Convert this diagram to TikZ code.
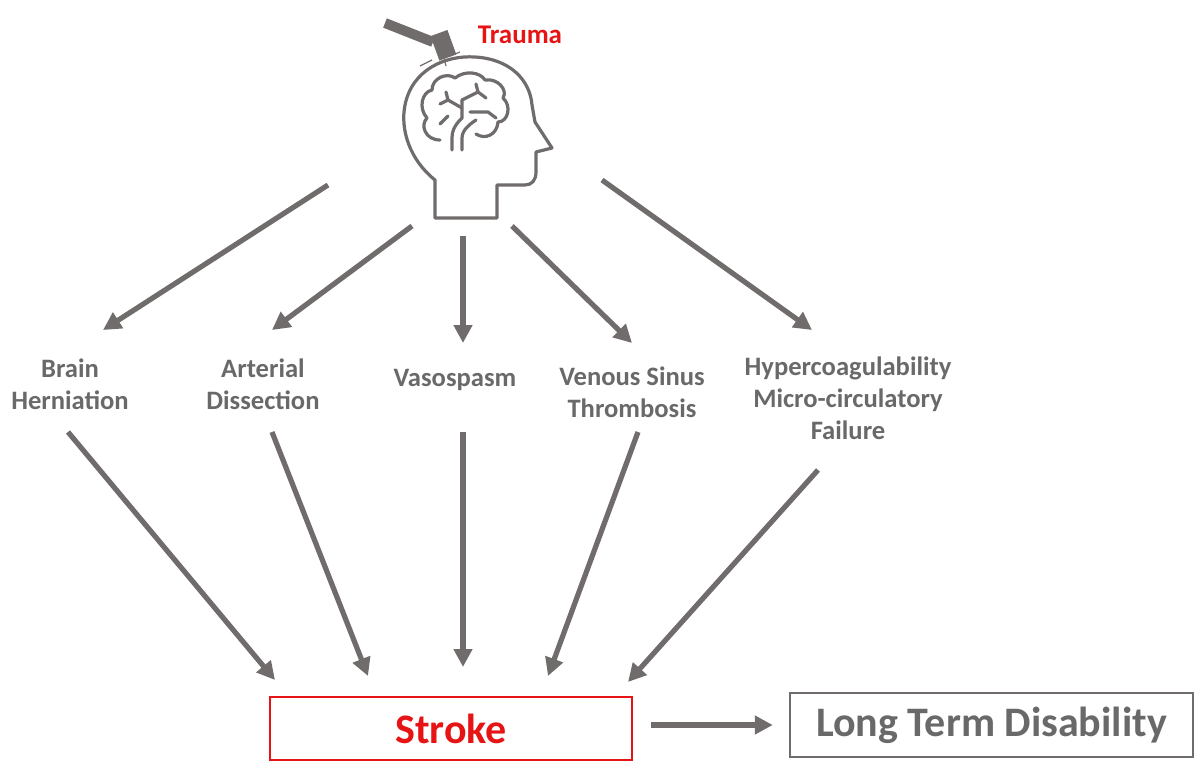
\documentclass[tikz,border=0pt]{standalone}
\usepackage{fontspec}
\setmainfont{Carlito}
\usetikzlibrary{arrows.meta}
\definecolor{ag}{RGB}{112,108,108}
\definecolor{tg}{RGB}{105,105,105}
\definecolor{rd}{RGB}{230,20,20}
\begin{document}
\begin{tikzpicture}[x=0.5pt,y=-0.5pt,
 arr/.style={draw=ag,line width=2.6pt,-{Triangle[length=9pt,width=9pt]}},
 lab/.style={text=tg,font=\fontsize{13.3pt}{16pt}\selectfont\bfseries,align=center},
 ic/.style={draw=ag,line width=1.6pt,line join=round,line cap=round}]
\useasboundingbox (0,0) rectangle (1200,771);
% head
\draw[ic] (435,218) -- (435,180) .. controls (410,160) and (400,130) .. (405,105)
 .. controls (412,70) and (445,55) .. (475,57)
 .. controls (510,59) and (530,80) .. (532,105)
 -- (535,122) -- (552,148) -- (536,152) -- (536,172) .. controls (536,180) and (532,185) .. (525,185)
 -- (497,185) -- (497,218) -- cycle;
% brain
\draw[ic] (440,140) .. controls (425,140) and (420,125) .. (427,118)
 .. controls (418,108) and (422,92) .. (432,90)
 .. controls (432,78) and (447,72) .. (455,78)
 .. controls (465,70) and (480,72) .. (485,80)
 .. controls (498,78) and (508,90) .. (503,98)
 .. controls (512,106) and (508,122) .. (498,122)
 .. controls (497,135) and (485,140) .. (476,134);
\draw[ic] (452,150) -- (452,138) .. controls (452,128) and (458,122) .. (462,118) -- (462,100);
\draw[ic] (462,150) -- (462,138) .. controls (462,130) and (470,124) .. (476,120);
\draw[ic] (462,108) -- (448,100) -- (440,104);
\draw[ic] (448,100) -- (446,92);
\draw[ic] (462,100) -- (478,92) -- (486,98);
\draw[ic] (478,92) -- (476,84);
\draw[ic] (470,112) -- (488,112) -- (496,118);
\draw[ic] (440,124) -- (448,116);
% hammer
\draw[ag,line width=5pt] (385,23) -- (433,42);
\fill[ag,rotate around={20:(444,44)}] (434,32) rectangle (452,58);
\draw[ag,line width=0.6pt] (432,60) -- (420,66) (450,56) -- (460,52) (444,58) -- (446,66);
\node[text=rd,font=\fontsize{13.5pt}{16pt}\selectfont\bfseries] (tr) at (520,35) {Trauma};
% labels
\node[lab] (bh) at (70,384) {Brain\\Herniation};
\node[lab] (ad) at (263,384) {Arterial\\Dissection};
\node[lab] (vs) at (455,380) {Vasospasm};
\node[lab] (vt) at (632,392) {Venous Sinus\\Thrombosis};
\node[lab] (hc) at (848,398) {Hypercoagulability\\Micro-circulatory\\Failure};
\coordinate (h1) at (328,185); \coordinate (h2) at (412,226); \coordinate (h3) at (463,236);
\coordinate (h4) at (512,226); \coordinate (h5) at (602,180);
\coordinate (t1) at (103,330); \coordinate (t2) at (272,330); \coordinate (t3) at (463,343);
\coordinate (t4) at (632,343); \coordinate (t5) at (812,330);
\draw[arr] (h1) -- (t1); \draw[arr] (h2) -- (t2); \draw[arr] (h3) -- (t3);
\draw[arr] (h4) -- (t4); \draw[arr] (h5) -- (t5);
\coordinate (b1) at (68,432); \coordinate (b2) at (272,432); \coordinate (b3) at (463,432);
\coordinate (b4) at (638,432); \coordinate (b5) at (818,470);
\coordinate (s1) at (275,680); \coordinate (s2) at (368,676); \coordinate (s3) at (463,667);
\coordinate (s4) at (548,676); \coordinate (s5) at (628,682);
\draw[arr] (b1) -- (s1); \draw[arr] (b2) -- (s2); \draw[arr] (b3) -- (s3);
\draw[arr] (b4) -- (s4); \draw[arr] (b5) -- (s5);
\node[draw=rd,line width=1.2pt,minimum width=181pt,minimum height=31.5pt,text=rd,font=\fontsize{21pt}{24pt}\selectfont\bfseries] (st) at (451,728.5) {Stroke};
\node[draw=ag,line width=1.2pt,minimum width=201.5pt,minimum height=32pt,text=tg,font=\fontsize{21pt}{24pt}\selectfont\bfseries] (lt) at (991.5,725) {Long Term Disability};
\draw[arr] ([xshift=9pt]st.east|-lt) -- ([xshift=-8pt]lt.west);
\end{tikzpicture}
\end{document}
